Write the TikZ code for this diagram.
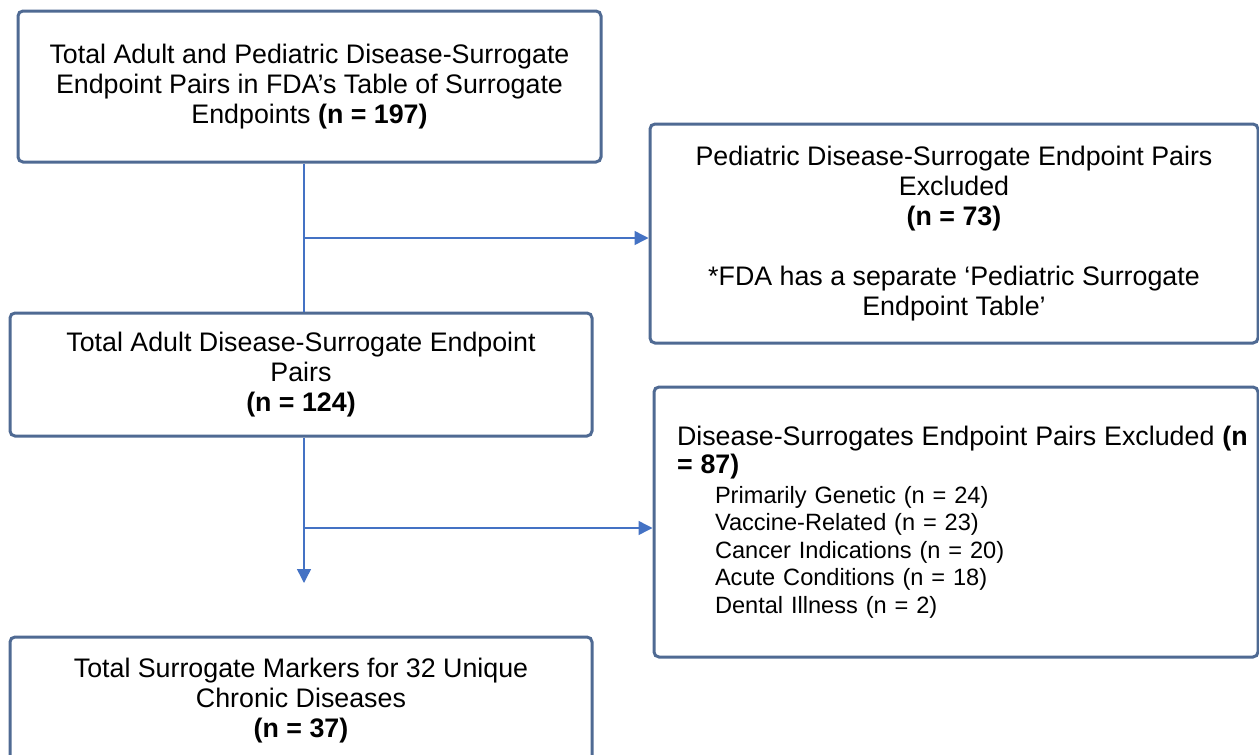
\documentclass[tikz,border=0pt]{standalone}
\usepackage{fontspec}
\setmainfont{Liberation Sans}
\usetikzlibrary{arrows.meta}
\definecolor{boxline}{HTML}{4F6A93}
\definecolor{linkline}{HTML}{4472C4}

\begin{document}
\begin{tikzpicture}[x=0.5pt, y=-0.5pt,
		box/.style={draw=boxline, line width=1.5pt, rounded corners=2.5pt, fill=white, inner sep=0pt, align=center, font=\fontsize{13.4}{15}\selectfont},
		link/.style={draw=linkline, line width=0.75pt},
		tip/.style={-{Triangle[length=7pt, width=7pt]}}]
			%%%%% START %%%%%
			
			\useasboundingbox (0, 0) rectangle (1259, 755);
			
			\node[box, minimum width=291.5pt, minimum height=75.5pt] (total) at (309.5, 86.5)
				{Total Adult and Pediatric Disease-Surrogate\\Endpoint Pairs in FDA’s Table of Surrogate\\Endpoints \textbf{(n = 197)}};
			
			\node[box, minimum width=304pt, minimum height=109.5pt] (pedi) at (954, 233.5)
				{Pediatric Disease-Surrogate Endpoint Pairs\\Excluded\\\textbf{(n = 73)}\\[15pt]*FDA has a separate ‘Pediatric Surrogate\\Endpoint Table’};
			
			\node[box, minimum width=291pt, minimum height=61.5pt] (adult) at (301, 374.5)
				{Total Adult Disease-Surrogate Endpoint\\Pairs\\\textbf{(n = 124)}};
			
			\node[box, minimum width=302pt, minimum height=135pt, align=left, text width=279pt, font=\fontsize{11.8}{13.75}\selectfont] (excl) at (956, 522)
				{\mbox{\fontsize{13.4}{15}\selectfont Disease-Surrogates Endpoint Pairs Excluded \textbf{(n}}\\
				{\fontsize{13.4}{15}\selectfont\textbf{= 87)}}\\[1.25pt]
				\hspace*{19pt}Primarily Genetic (n = 24)\\
				\hspace*{19pt}Vaccine-Related (n = 23)\\
				\hspace*{19pt}Cancer Indications (n = 20)\\
				\hspace*{19pt}Acute Conditions (n = 18)\\
				\hspace*{19pt}Dental Illness (n = 2)};
			
			\node[box, minimum width=291pt, minimum height=64pt] (chronic) at (301, 701)
				{Total Surrogate Markers for 32 Unique\\Chronic Diseases\\\textbf{(n = 37)}};
			
			% trunk and branches
			\coordinate (j1) at (304, 238);
			\coordinate (j2) at (304, 528);
			\coordinate (stop) at (304, 583);
			
			\draw[link] (total.south -| j1) -- (adult.north -| j1);
			\draw[link, tip] (j1) -- (pedi.west |- j1);
			\draw[link, tip] (adult.south -| j2) -- (stop);
			\draw[link, tip] (j2) -- (excl.west |- j2);
			
			%%%%% END %%%%%
		\end{tikzpicture}
\end{document}
